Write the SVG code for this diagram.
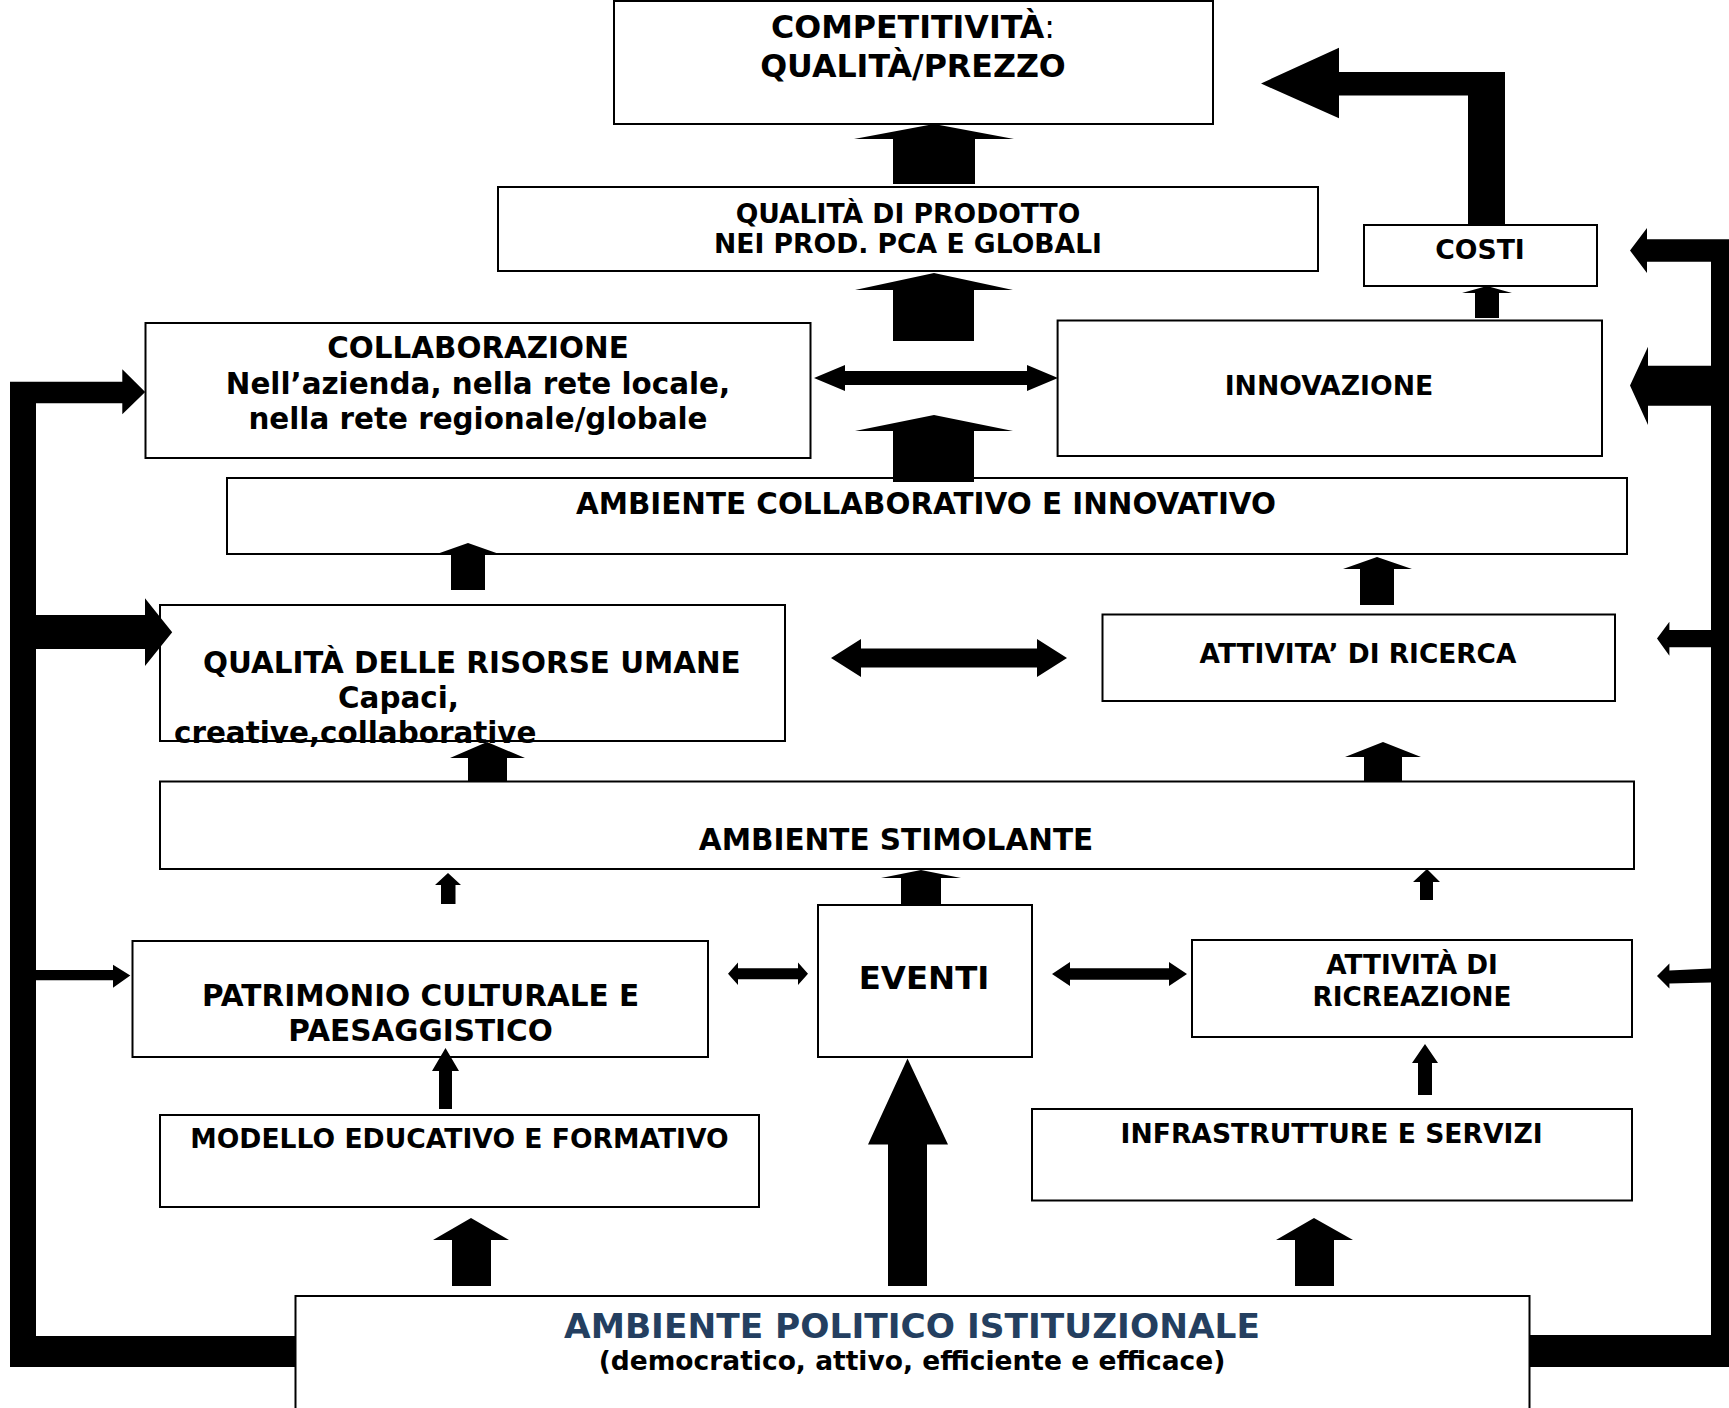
<svg xmlns="http://www.w3.org/2000/svg" width="1729" height="1408" viewBox="0 0 1729 1408">
<style>
  .box { fill: #ffffff; stroke: #000000; stroke-width: 2; }
  .ar { fill: #000000; stroke: none; }
  text { font-family: "DejaVu Sans", "Liberation Sans", sans-serif; font-weight: bold; fill: #000000; }
  .c { text-anchor: middle; }
  .s26 { font-size: 26.5px; }
  .s29 { font-size: 29.4px; }
  .title { font-size: 34.4px; fill: #243F60; }
</style>
<rect x="0" y="0" width="1729" height="1408" fill="#ffffff"/>

<g id="competitivita">
  <rect class="box" x="614" y="1" width="599" height="123"/>
  <text class="c" x="913" y="38" style="font-size:31.7px">COMPETITIVITÀ<tspan font-weight="normal">:</tspan></text>
  <text class="c" x="913" y="77" style="font-size:31.7px">QUALITÀ/PREZZO</text>
</g>

<g id="qualita-prodotto">
  <rect class="box" x="498" y="187" width="820" height="84"/>
  <text class="c" x="908" y="223" style="font-size:26.6px">QUALITÀ DI PRODOTTO</text>
  <text class="c" x="908" y="253" style="font-size:26.6px">NEI PROD. PCA E GLOBALI</text>
</g>

<g id="costi">
  <rect class="box" x="1364" y="225" width="233" height="61"/>
  <text class="c" x="1480" y="259" style="font-size:26.7px">COSTI</text>
</g>

<g id="collaborazione">
  <rect class="box" x="145.5" y="323" width="665" height="135"/>
  <text class="c s29" x="478" y="358">COLLABORAZIONE</text>
  <text class="c s29" x="478" y="393.5">Nell’azienda, nella rete locale,</text>
  <text class="c s29" x="478" y="428.5">nella rete regionale/globale</text>
</g>

<g id="innovazione">
  <rect class="box" x="1057.6" y="320.5" width="544.4" height="135.5"/>
  <text class="c" x="1329" y="395" style="font-size:26.7px">INNOVAZIONE</text>
</g>

<g id="ambiente-collaborativo">
  <rect class="box" x="227" y="478" width="1400" height="76"/>
  <text class="c s29" x="926" y="514">AMBIENTE COLLABORATIVO E INNOVATIVO</text>
</g>

<g id="risorse-umane">
  <rect class="box" x="160" y="605" width="625" height="136"/>
  <text class="s29" x="203" y="673">QUALITÀ DELLE RISORSE UMANE</text>
  <text class="s29" x="338" y="708">Capaci,</text>
  <text class="s29" x="174" y="743">creative,collaborative</text>
</g>

<g id="ricerca">
  <rect class="box" x="1102.5" y="614.5" width="512.5" height="86.5"/>
  <text class="c" x="1358" y="662.7" style="font-size:26.4px">ATTIVITA’ DI RICERCA</text>
</g>

<g id="ambiente-stimolante">
  <rect class="box" x="160" y="781.5" width="1474" height="87.5"/>
  <text class="c" x="896" y="850" style="font-size:29.5px">AMBIENTE STIMOLANTE</text>
</g>

<g id="patrimonio">
  <rect class="box" x="132.5" y="941" width="575.5" height="116"/>
  <text class="c" x="420.5" y="1006" style="font-size:29.5px">PATRIMONIO CULTURALE E</text>
  <text class="c" x="420.5" y="1041" style="font-size:29.5px">PAESAGGISTICO</text>
</g>

<g id="eventi">
  <rect class="box" x="818" y="905" width="214" height="152"/>
  <text class="c" x="924" y="989" style="font-size:32.4px">EVENTI</text>
</g>

<g id="ricreazione">
  <rect class="box" x="1192" y="940" width="440" height="97"/>
  <text class="c" x="1412" y="974" style="font-size:26.3px">ATTIVITÀ DI</text>
  <text class="c" x="1412" y="1006" style="font-size:26.3px">RICREAZIONE</text>
</g>

<g id="modello-educativo">
  <rect class="box" x="160" y="1115" width="599" height="92"/>
  <text class="c" x="459.5" y="1148.4" style="font-size:26.6px">MODELLO EDUCATIVO E FORMATIVO</text>
</g>

<g id="infrastrutture">
  <rect class="box" x="1032" y="1109" width="600" height="91.5"/>
  <text class="c" x="1331.6" y="1142.6" style="font-size:26.6px">INFRASTRUTTURE E SERVIZI</text>
</g>

<g id="ambiente-politico">
  <rect class="box" x="295.5" y="1296" width="1234" height="130"/>
  <text class="c title" x="912" y="1338">AMBIENTE POLITICO ISTITUZIONALE</text>
  <text class="c s26" x="912" y="1370">(democratico, attivo, efficiente e efficace)</text>
</g>

<g id="connectors">
  <!-- vertical up arrows -->
  <polygon class="ar" points="934,124 1014,139 975,139 975,184 893,184 893,139 854,139"/>
  <polygon class="ar" points="934,273 1013,290 974,290 974,341 893,341 893,290 855,290"/>
  <polygon class="ar" points="934,415 1013,431 974,431 974,482 893,482 893,431 855,431"/>
  <polygon class="ar" points="1487,286 1512,293 1499,293 1499,318 1475,318 1475,293 1462,293"/>
  <polygon class="ar" points="468,543 502,555 485,555 485,590 451,590 451,555 434,555"/>
  <polygon class="ar" points="1377,557 1412,569 1394,569 1394,605 1360,605 1360,569 1343,569"/>
  <polygon class="ar" points="487,742 525,758 507,758 507,781 468,781 468,758 450,758"/>
  <polygon class="ar" points="1383,742 1421,757 1402,757 1402,781 1364,781 1364,757 1345,757"/>
  <polygon class="ar" points="448,873 461,885 455.5,885 455.5,904 441,904 441,885 435,885"/>
  <polygon class="ar" points="921,870 961,878 941,878 941,905 901,905 901,878 881,878"/>
  <polygon class="ar" points="1427,869 1440,882 1433,882 1433,900 1420,900 1420,882 1413,882"/>
  <polygon class="ar" points="1425,1044 1438,1063 1432,1063 1432,1095 1418,1095 1418,1063 1412,1063"/>
  <polygon class="ar" points="445.5,1048 459,1071 452,1071 452,1109 439,1109 439,1071 432,1071"/>
  <polygon class="ar" points="471,1218 509,1240 491,1240 491,1286 452,1286 452,1240 433,1240"/>
  <polygon class="ar" points="907.5,1058.5 948,1144.5 927,1144.5 927,1286 888,1286 888,1144.5 868,1144.5"/>
  <polygon class="ar" points="1314,1218 1353,1240 1334,1240 1334,1286 1295,1286 1295,1240 1276,1240"/>
  <!-- double arrows -->
  <polygon class="ar" points="814,378 845,365 845,371 1027,371 1027,365 1058,378 1027,391 1027,385 845,385 845,391"/>
  <polygon class="ar" points="831,658 861,639 861,648.5 1037,648.5 1037,639 1067,658 1037,677 1037,667.5 861,667.5 861,677"/>
  <polygon class="ar" points="728,973.7 738,962.4 738,968.2 798,968.2 798,962.4 808,973.7 798,985 798,979.2 738,979.2 738,985"/>
  <polygon class="ar" points="1052,974 1070,962 1070,968.3 1169,968.3 1169,962 1187,974 1169,986 1169,979.7 1070,979.7 1070,986"/>
  <!-- costi to competitivita -->
  <polygon class="ar" points="1468,226 1505,226 1505,72 1339,72 1339,47.7 1261,83.5 1339,118.3 1339,95.5 1468,95.5"/>
  <!-- left feedback bracket -->
  <path class="ar" d="M10,381.7 H122.3 V369.3 L145.2,392 L122.3,414.3 V403.3 H36 V615 H145 V598.3 L172.2,632.3 L145,666 V649 H36 V970 H113 V964.8 L130.3,975.5 L113,987.7 V980.3 H36 V1336 H296 V1367 H10 Z"/>
  <!-- right feedback bracket -->
  <path class="ar" d="M1729,239.3 H1647 V228 L1630,250.5 L1647,273 V261.7 H1711 V365.7 H1648 V346.7 L1630,385.5 L1648,425 V405.7 H1711 V630 H1669.4 V621.7 L1657,638.5 L1669.4,655.7 V647.3 H1711 V968.5 L1669.4,970.5 V963.5 L1657,976 L1669.4,988.4 V983.5 L1711,982.5 V1335 H1529 V1367 H1729 Z"/>
</g>
</svg>
